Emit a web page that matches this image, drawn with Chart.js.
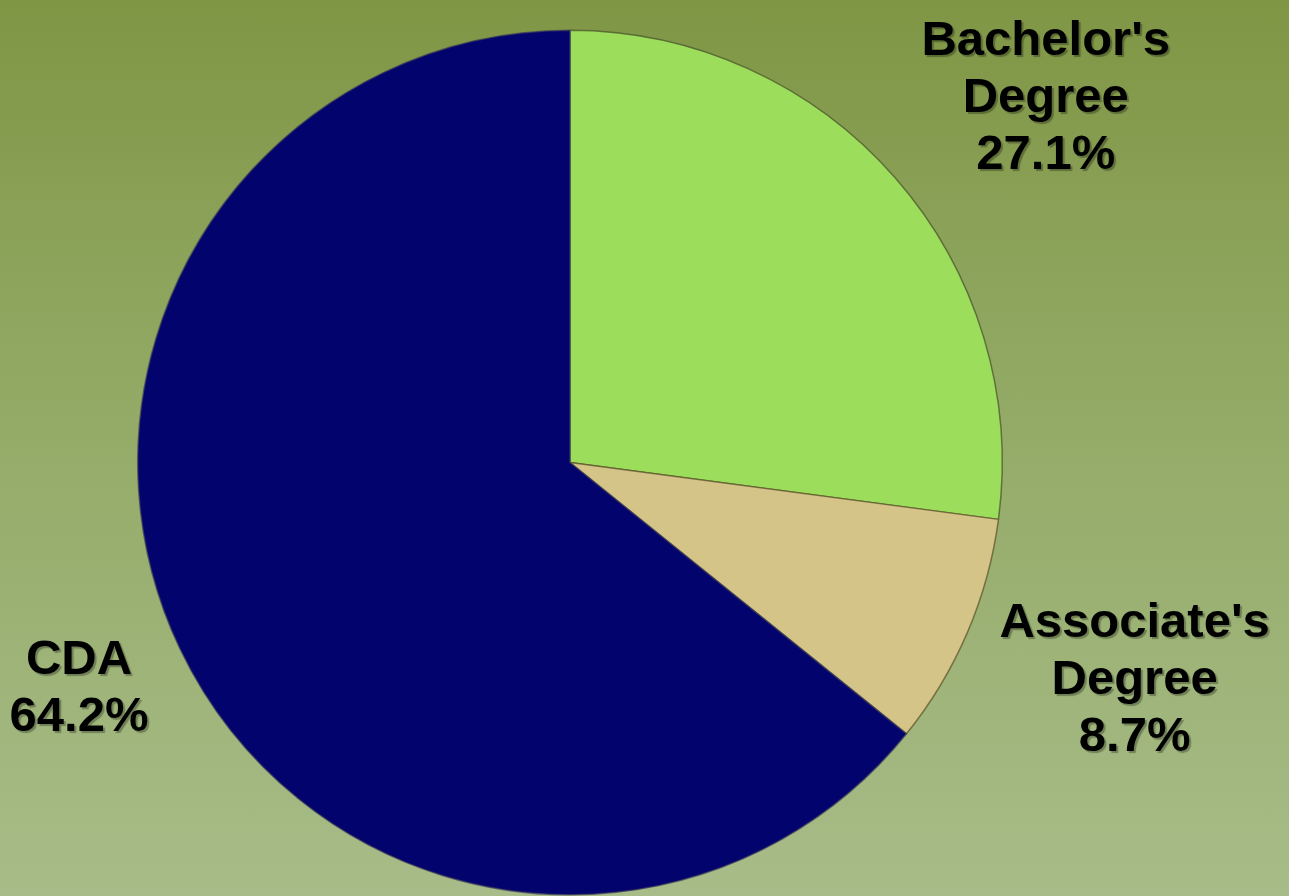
<!DOCTYPE html>
<html>
<head>
<meta charset="utf-8">
<script src="https://cdn.jsdelivr.net/npm/chart.js@4/dist/chart.umd.min.js"></script>
<style>
html,body{margin:0;padding:0}
body{width:1289px;height:896px;background:linear-gradient(to bottom,#7f9645 0%,#93aa66 45%,#a7bc88 100%)}
#wrap{position:relative;width:1289px;height:896px}
</style>
</head>
<body>
<div id="wrap"><canvas id="pie" width="1289" height="896"></canvas></div>
<script>

let categories=["Bachelor's Degree","Associate's Degree","CDA"]
let labelLines=[["Bachelor's","Degree"],["Associate's","Degree"],["CDA"]]
let shares=[27.1,8.7,64.2]
let sliceColors=["#9cdd5b","#d4c487","#03036d"]

// draws the outside labels next to each slice
let outsideLabels={
id:"outsideLabels",
afterDatasetsDraw(chart){

let ctx=chart.ctx
let meta=chart.getDatasetMeta(0)
let lineH=57

ctx.save()
ctx.font="bold 49px 'Liberation Sans', Arial, sans-serif"
ctx.textAlign="center"
ctx.textBaseline="middle"
ctx.fillStyle="#000"
ctx.shadowColor="rgba(0,0,0,0.3)"
ctx.shadowOffsetX=2
ctx.shadowOffsetY=2
ctx.shadowBlur=1

meta.data.forEach((arc,i)=>{

let lines=labelLines[i].concat([shares[i].toFixed(1)+"%"])
let w=Math.max(...lines.map(t=>ctx.measureText(t).width))
let h=lines.length*lineH
let mid=(arc.startAngle+arc.endAngle)/2
let d=arc.outerRadius+35
let ax=arc.x+Math.cos(mid)*d
let ay=arc.y+Math.sin(mid)*d
let cx=ax+Math.sign(Math.cos(mid))*w/2
let cy=ay+Math.sin(mid)*h/2

lines.forEach((t,k)=>{
ctx.fillText(t,cx,cy-h/2+lineH/2+k*lineH)
})

})

ctx.restore()

}
}

new Chart(document.getElementById("pie"),{

type:"pie",

data:{
labels:categories,
datasets:[{
data:shares,
backgroundColor:sliceColors,
borderColor:["rgba(70,80,40,0.7)","rgba(90,80,40,0.7)","rgba(60,60,90,0.7)"],
borderWidth:1.5
}]
},

options:{
responsive:false,
animation:false,
layout:{padding:{left:137,right:286,top:29,bottom:0}},
plugins:{
legend:{display:false},
tooltip:{enabled:false}
}
},

plugins:[outsideLabels]

})

</script>
</body>
</html>
